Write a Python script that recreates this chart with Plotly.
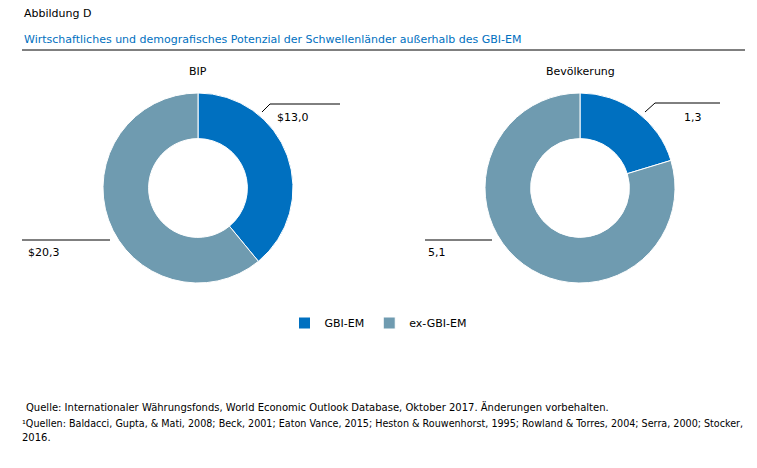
import plotly.graph_objects as go

W, H = 757, 468
OFF = 8  # page body margin shifts the plot by this much

labels = ["GBI-EM", "ex-GBI-EM"]
bip = [13.0, 20.3]
bev = [1.3, 5.1]
bip_text = ["$13,0", "$20,3"]
bev_text = ["1,3", "5,1"]
colors = ["#0070C0", "#6F9BB0"]


def px(x):
    return (x - OFF) / W


def py(y):
    return 1 - (y - OFF) / H


fig = go.Figure()

# donuts
for vals, cx, show in [(bip, 198, True), (bev, 580, False)]:
    fig.add_trace(go.Pie(labels=labels, values=vals, hole=0.52, sort=False,
                         direction="clockwise", rotation=0,
                         marker=dict(colors=colors, line=dict(color="white", width=1)),
                         textinfo="none", showlegend=show,
                         domain=dict(x=[px(cx - 95), px(cx + 95)],
                                     y=[py(283), py(93)])))

texts = [
    ("Abbildung D", 22, 14, "left", "#000000", 11),
    ("Wirtschaftliches und demografisches Potenzial der Schwellenländer außerhalb des GBI-EM", 22, 40, "left", "#0070C0", 11),
    ("BIP", 198, 72, "center", "#000000", 11),
    ("Bevölkerung", 580, 72, "center", "#000000", 11),
    (bip_text[0], 275, 117, "left", "#000000", 11),
    (bip_text[1], 26, 252, "left", "#000000", 11),
    (bev_text[0], 682, 117, "left", "#000000", 11),
    (bev_text[1], 426, 252, "left", "#000000", 11),
    ("Quelle: Internationaler Währungsfonds, World Economic Outlook Database, Oktober 2017. Änderungen vorbehalten.", 24, 407, "left", "#000000", 10),
    ("¹Quellen: Baldacci, Gupta, & Mati, 2008; Beck, 2001; Eaton Vance, 2015; Heston & Rouwenhorst, 1995; Rowland & Torres, 2004; Serra, 2000; Stocker,", 20, 423, "left", "#000000", 9.6),
    ("2016.", 20, 437, "left", "#000000", 10),
]
for t, x, y, anc, col, size in texts:
    fig.add_annotation(text=t, x=px(x), y=py(y), xref="paper", yref="paper",
                       xanchor=anc, yanchor="middle", showarrow=False,
                       font=dict(family="DejaVu Sans", size=size, color=col))

# rule under title and leader lines
lines = [
    (22, 50, 745, 50),
    (262, 112, 270, 104), (270, 104, 340, 104),
    (22, 240, 110, 240),
    (645, 112, 655, 103), (655, 103, 720, 103),
    (425, 240, 492, 240),
]
for x0, y0, x1, y1 in lines:
    fig.add_shape(type="line", xref="paper", yref="paper",
                  x0=px(x0), y0=py(y0), x1=px(x1), y1=py(y1),
                  line=dict(color="#000000", width=1))

fig.update_layout(
    width=W, height=H,
    margin=dict(l=0, r=0, t=0, b=0),
    paper_bgcolor="white",
    font=dict(family="DejaVu Sans", size=11, color="#000000"),
    legend=dict(orientation="h", x=px(378), xanchor="center", y=py(323), yanchor="middle",
                font=dict(size=11), itemwidth=30, traceorder="normal"),
)

fig.write_html("out.html")
